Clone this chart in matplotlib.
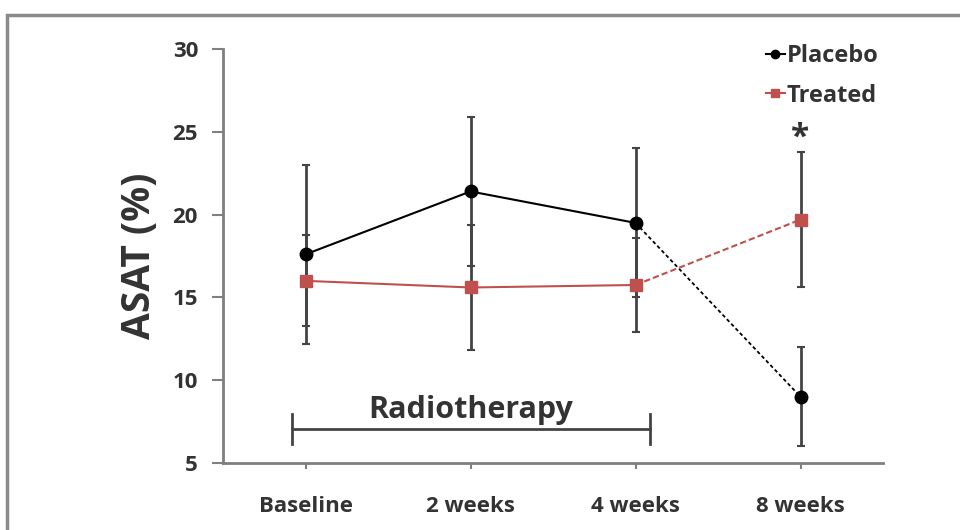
import matplotlib
matplotlib.use('Agg')
import matplotlib.pyplot as plt
from matplotlib.patches import Rectangle

# data
timepoints = ['Baseline', '2 weeks', '4 weeks', '8 weeks']
placebo = [17.6, 21.4, 19.5, 9.0]
placebo_err = [5.4, 4.5, 4.5, 3.0]
treated = [16.0, 15.6, 15.75, 19.7]
treated_err = [2.75, 3.8, 2.85, 4.1]
yticks = [5, 10, 15, 20, 25, 30]

RED = '#c0504d'
GREY = '#7f7f7f'
TXT = '#333333'

plt.rcParams['font.family'] = ['Open Sans', 'DejaVu Sans']
plt.rcParams['font.weight'] = 'bold'

fig = plt.figure(figsize=(9.6, 5.3), dpi=100)
ax = fig.add_axes([0.2323, 0.1264, 0.6875, 0.7811])

x = list(range(len(timepoints)))

# error bars (both drawn in dark grey like the original)
ax.errorbar(x, placebo, yerr=placebo_err, fmt='none', ecolor='#444444',
            elinewidth=2, capsize=3, capthick=1.5, zorder=2)
ax.errorbar(x, treated, yerr=treated_err, fmt='none', ecolor='#444444',
            elinewidth=2, capsize=3, capthick=1.5, zorder=2)

# solid during radiotherapy, dashed afterwards
ax.plot(x[:3], placebo[:3], color='black', lw=1.5, zorder=3)
ax.plot(x[2:], placebo[2:], color='black', lw=1.3, ls=(0, (2, 1.5)), zorder=3)
ax.plot(x[:3], treated[:3], color=RED, lw=1.5, zorder=3)
ax.plot(x[2:], treated[2:], color=RED, lw=1.5, ls=(0, (3, 1.5)), zorder=3)
ax.plot(x, placebo, 'o', color='black', ms=9, zorder=4)
ax.plot(x, treated, 's', color=RED, ms=9, zorder=4)

# legend handles
ax.plot([], [], color='black', marker='o', ms=6, lw=1.5, label='Placebo')
ax.plot([], [], color=RED, marker='s', ms=6, lw=1.5, label='Treated')
leg = ax.legend(loc='upper left', bbox_to_anchor=(0.79, 1.063), frameon=False,
                handlelength=0.8, handletextpad=0.1, labelspacing=0.65,
                prop={'size': 17, 'weight': 'bold'})
for t in leg.get_texts():
    t.set_color(TXT)

ax.text(3, 23.6, '*', ha='center', va='bottom', fontsize=24, color=TXT)

# radiotherapy bracket
ax.plot([-0.08, 2.085], [7.05, 7.05], color='#444444', lw=2)
ax.plot([-0.08, -0.08], [6.15, 7.95], color='#444444', lw=2)
ax.plot([2.085, 2.085], [6.15, 7.95], color='#444444', lw=2)
ax.text(1.0, 7.3, 'Radiotherapy', ha='center', va='bottom', fontsize=22,
        color=TXT)

ax.set_xlim(-0.5, 3.5)
ax.set_ylim(5, 30)
ax.set_xticks(x)
ax.set_xticklabels(timepoints)
ax.set_yticks(yticks)
ax.set_ylabel('ASAT (%)', fontsize=28, fontweight='bold', color=TXT,
              labelpad=10)

for side in ['top', 'right']:
    ax.spines[side].set_visible(False)
for side in ['left', 'bottom']:
    ax.spines[side].set_color(GREY)
    ax.spines[side].set_linewidth(2)
ax.tick_params(axis='y', direction='out', length=8, width=1.5, color=GREY,
               labelsize=16, labelcolor=TXT, pad=10)
ax.tick_params(axis='x', direction='out', length=4, width=1.5, color=GREY,
               labelsize=16, labelcolor=TXT, pad=20)

# outer frame of the original figure (cut off at right and bottom)
fig.patches.append(Rectangle((7 / 960, -0.2), 1.3, 0.2 + 1 - 15 / 530,
                             transform=fig.transFigure, fill=False,
                             edgecolor='#8a8a8a', lw=2.5))

fig.savefig('out.png', dpi=100)
